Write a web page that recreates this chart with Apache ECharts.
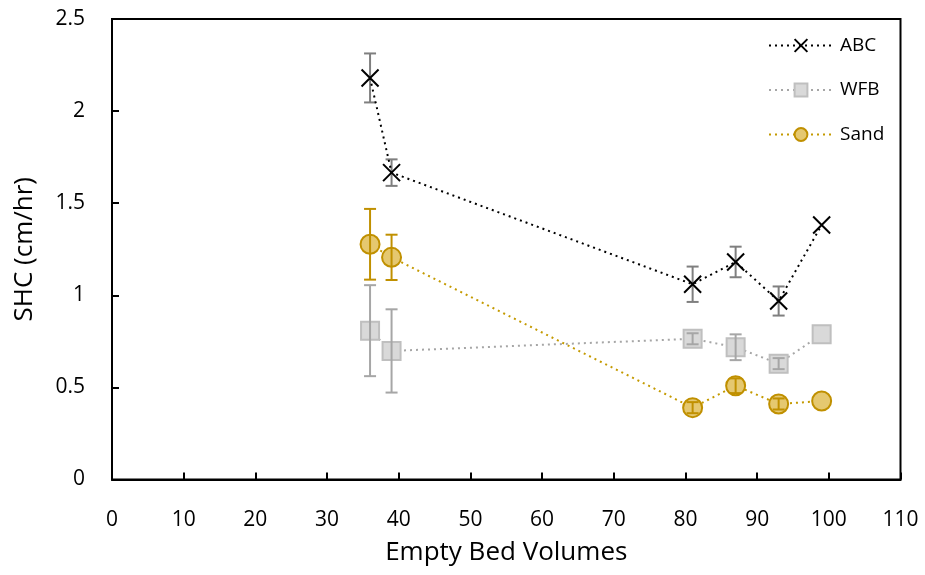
<!DOCTYPE html>
<html>
<head>
<meta charset="utf-8">
<script src="https://cdn.jsdelivr.net/npm/echarts@6/dist/echarts.min.js"></script>
<style>
  html, body { margin: 0; padding: 0; background: #fff; }
  #chart { width: 925px; height: 575px; }
</style>
</head>
<body>
<div id="chart"></div>
<script>
// empty bed volumes
var bedVolumes = [36, 39, 81, 87, 93, 99]

// SHC (cm/hr) and error bar half-widths
var abcShc = [2.18, 1.666, 1.06, 1.181, 0.969, 1.382]
var abcErr = [0.133, 0.072, 0.096, 0.083, 0.079, 0]
var wfbShc = [0.808, 0.698, 0.764, 0.718, 0.629, 0.788]
var wfbErr = [0.247, 0.226, 0.03, 0.07, 0.03, 0]
var sandShc = [1.277, 1.206, 0.39, 0.509, 0.41, 0.426]
var sandErr = [0.192, 0.123, 0.03, 0.04, 0.03, 0]

var fontName = 'Open Sans'

function pairs(ys) {
  return bedVolumes.map(function (x, i) { return [x, ys[i]] })
}

function errRows(ys, errs) {
  return bedVolumes.map(function (x, i) { return [x, ys[i] - errs[i], ys[i] + errs[i]] })
}

function errorBars(name, ys, errs, color, z) {
  return {
    name: name,
    type: 'custom',
    z: z,
    silent: true,
    data: errRows(ys, errs),
    renderItem: function (params, api) {
      var lo = api.coord([api.value(0), api.value(1)])
      var hi = api.coord([api.value(0), api.value(2)])
      if (Math.abs(hi[1] - lo[1]) < 0.5) return
      var half = 6
      var style = { stroke: color, lineWidth: 2 }
      return {
        type: 'group',
        children: [
          { type: 'line', shape: { x1: lo[0], y1: lo[1], x2: hi[0], y2: hi[1] }, style: style },
          { type: 'line', shape: { x1: lo[0] - half, y1: lo[1], x2: lo[0] + half, y2: lo[1] }, style: style },
          { type: 'line', shape: { x1: hi[0] - half, y1: hi[1], x2: hi[0] + half, y2: hi[1] }, style: style }
        ]
      }
    }
  }
}

var crossPath = 'path://M0,0 L10,10 M10,0 L0,10'

var chart = echarts.init(document.getElementById('chart'))
chart.setOption({
  animation: false,
  grid: {
    left: 112,
    top: 19,
    right: 24.5,
    bottom: 95.5,
    show: true,
    borderColor: '#000',
    borderWidth: 2
  },
  legend: {
    data: ['ABC', 'WFB', 'Sand'],
    orient: 'vertical',
    left: 763,
    top: 31,
    itemWidth: 64,
    itemHeight: 16,
    itemGap: 25.5,
    textStyle: { fontFamily: fontName, fontSize: 19, color: '#000', padding: [0, 0, 0, 2] }
  },
  xAxis: {
    type: 'value',
    min: 0,
    max: 110,
    interval: 10,
    name: 'Empty Bed Volumes',
    nameLocation: 'middle',
    nameGap: 60,
    nameTextStyle: { fontFamily: fontName, fontSize: 26, color: '#000' },
    axisLine: { lineStyle: { color: '#000', width: 2 } },
    axisTick: { inside: true, length: 7, lineStyle: { color: '#000', width: 2 } },
    axisLabel: { fontFamily: fontName, fontSize: 21, color: '#000', margin: 30 },
    splitLine: { show: false }
  },
  yAxis: {
    type: 'value',
    min: 0,
    max: 2.5,
    interval: 0.5,
    name: 'SHC (cm/hr)',
    nameLocation: 'middle',
    nameGap: 74,
    nameTextStyle: { fontFamily: fontName, fontSize: 26, color: '#000' },
    axisLine: { show: true, lineStyle: { color: '#000', width: 2 } },
    axisTick: { show: true, inside: true, length: 7, lineStyle: { color: '#000', width: 2 } },
    axisLabel: { fontFamily: fontName, fontSize: 21, color: '#000', margin: 27 },
    splitLine: { show: false }
  },
  series: [
    {
      name: 'WFB',
      type: 'line',
      z: 2,
      data: pairs(wfbShc),
      symbol: 'rect',
      symbolSize: 18,
      itemStyle: { color: '#d9d9d9', borderColor: '#bfbfbf', borderWidth: 2 },
      lineStyle: { color: '#a6a6a6', width: 2, type: [2, 4] }
    },
    errorBars('WFB err', wfbShc, wfbErr, '#a6a6a6', 3),
    {
      name: 'Sand',
      type: 'line',
      z: 2,
      data: pairs(sandShc),
      symbol: 'circle',
      symbolSize: 19,
      itemStyle: { color: '#e5c870', borderColor: '#c09000', borderWidth: 2 },
      lineStyle: { color: '#c49a00', width: 2, type: [2, 4] }
    },
    errorBars('Sand err', sandShc, sandErr, '#c09000', 3),
    errorBars('ABC err', abcShc, abcErr, '#7f7f7f', 2),
    {
      name: 'ABC',
      type: 'line',
      z: 4,
      data: pairs(abcShc),
      symbol: crossPath,
      symbolSize: 17,
      itemStyle: { color: '#000', borderColor: '#000', borderWidth: 2 },
      lineStyle: { color: '#000', width: 2, type: [2, 4] }
    }
  ]
})
</script>
</body>
</html>
